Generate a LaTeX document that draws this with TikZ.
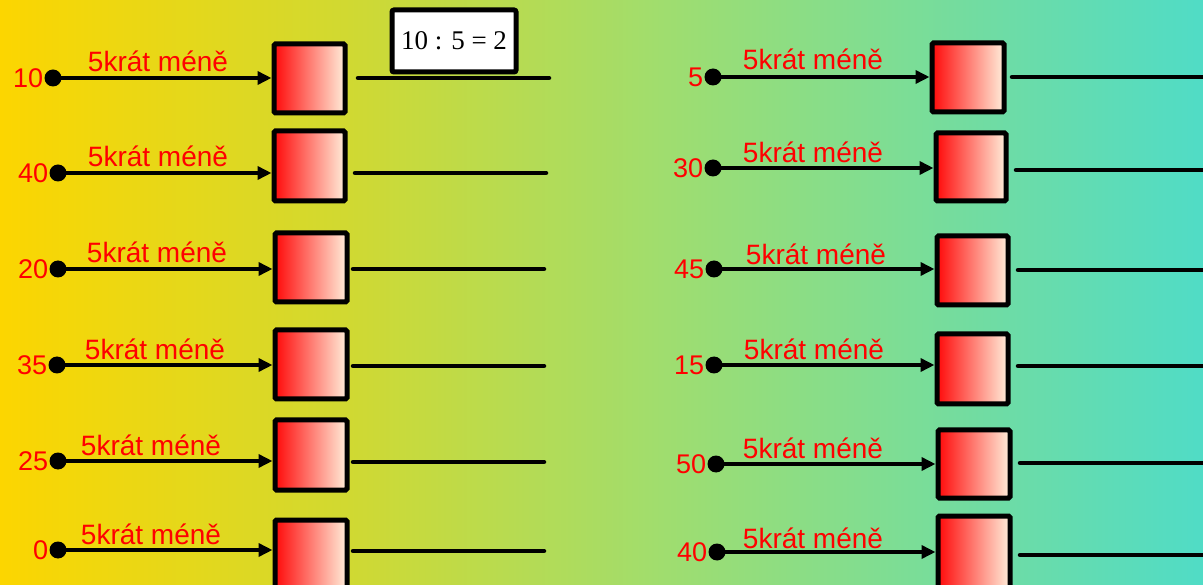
\documentclass[tikz,border=0pt]{standalone}
\usepackage{fontspec}
\setmainfont{Liberation Sans}
\newfontfamily\serifbox{Liberation Serif}
\usetikzlibrary{arrows.meta}
\definecolor{bgA}{RGB}{252,214,0}
\definecolor{bgB}{RGB}{208,217,50}
\definecolor{bgC}{RGB}{160,221,110}
\definecolor{bgD}{RGB}{80,220,198}
\definecolor{boxL}{RGB}{255,10,10}
\definecolor{boxR}{RGB}{255,238,218}
\definecolor{txtred}{RGB}{255,0,0}
\tikzset{
  dotnode/.style={circle,fill=black,inner sep=0pt,minimum size=17pt},
  numlbl/.style={text=txtred,font=\fontsize{27}{30}\selectfont,inner sep=1pt,anchor=east},
  oplbl/.style={text=txtred,font=\fontsize{28}{30}\selectfont,inner sep=0pt,anchor=base},
  conn/.style={line width=3.8pt,-{Triangle[length=14pt,width=13pt]},shorten >=2.5pt},
  ansline/.style={line width=4.5pt,line cap=round},
  sqbox/.style={draw=black,line width=5pt,rounded corners=1.5pt,left color=boxL,right color=boxR},
  resbox/.style={draw=black,line width=5pt,rounded corners=2pt,fill=white,minimum width=124pt,minimum height=62pt,font=\serifbox\fontsize{27}{30}\selectfont,inner sep=0pt}
}
\begin{document}
\begin{tikzpicture}[x=1pt,y=-1pt]
\useasboundingbox (0,0) rectangle (1203,585);
\clip (0,0) rectangle (1203,585);
% background gradient
\shade[left color=bgA,right color=bgB] (0,0) rectangle (351,585);
\shade[left color=bgB,right color=bgC] (350,0) rectangle (661,585);
\shade[left color=bgC,right color=bgD] (660,0) rectangle (1203,585);
% rows: name, dot x, dot y, number, box x1, x2, y1, y2, line x1, x2, y, label x, label baseline
\foreach \n/\dx/\dy/\num/\bxa/\bxb/\bya/\byb/\lxa/\lxb/\ly/\tx/\tb in {
  L1/53/78/10/274/345/44/113/358/549/78/158/72,
  L2/58/173/40/274/345/131/201/355/546/173/158/167,
  L3/58/269/20/275/347/233/302/353/544/269/157/263,
  L4/57/365/35/275/347/330/399/353/544/366/155/360,
  L5/58/461/25/275/347/420/490/353/544/462/151/455,
  L6/58/550/0/275/347/520/592/353/544/551/151/544,
  R1/713/77/5/932/1004/43/112/1012/1215/77/813/70,
  R2/713/168/30/936/1006/133/201/1016/1215/170/813/163,
  R3/714/269/45/937/1008/236/305/1018/1215/270/816/265,
  R4/714/365/15/937/1008/334/404/1018/1215/366/814/360,
  R5/716/464/50/938/1010/430/498/1020/1215/463/813/458,
  R6/717/552/40/938/1010/516/592/1020/1215/555/813/548}{
  \path[sqbox] (\bxa,\bya) rectangle (\bxb,\byb);
  \coordinate (\n box) at (\bxa,\dy);
  \node[dotnode] (\n dot) at (\dx,\dy) {};
  \node[numlbl] (\n num) at ([xshift=0pt]\n dot.west) {\num};
  \node[oplbl] (\n op) at (\tx,\tb) {5krát méně};
  \draw[conn] (\n dot.center) -- (\n box);
  \coordinate (\n ls) at (\lxa,\ly);
  \coordinate (\n le) at (\lxb,\ly);
  \draw[ansline] (\n ls) -- (\n le);
}
\node[resbox] (res) at (454,41) {10 : 5 = 2};
\end{tikzpicture}
\end{document}
